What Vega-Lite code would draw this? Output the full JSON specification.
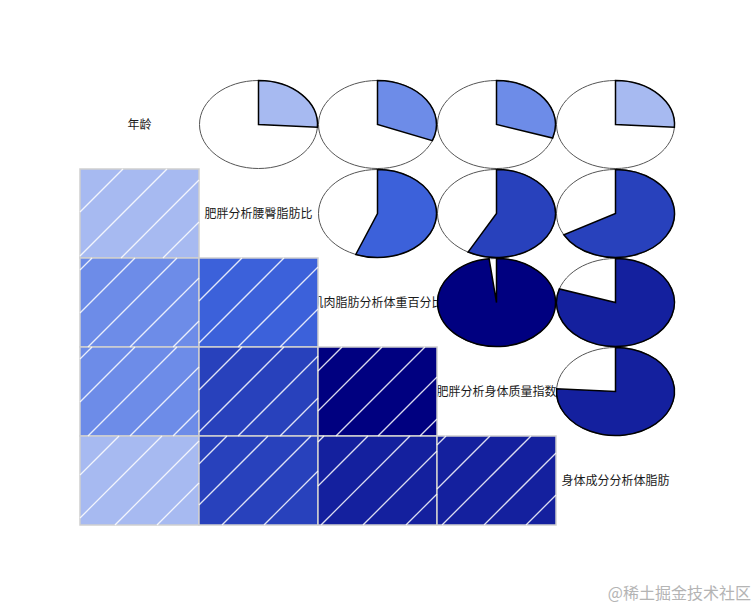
{
  "$schema": "https://vega.github.io/schema/vega-lite/v6.json",
  "width": 595,
  "height": 445,
  "autosize": {"type": "none"},
  "padding": {"left": 80, "top": 80, "right": 81, "bottom": 81},
  "background": "white",
  "config": {"view": {"stroke": null}},
  "title": {
    "text": "@稀土掘金技术社区",
    "orient": "bottom",
    "anchor": "end",
    "frame": "group",
    "offset": 68,
    "dx": 76,
    "baseline": "middle",
    "font": "Noto Sans CJK SC",
    "fontSize": 16,
    "fontWeight": "normal",
    "color": "#b4b4b4"
  },
  "datasets": {
    "vars": [
      {"name": "年龄"},
      {"name": "肥胖分析腰臀脂肪比"},
      {"name": "肌肉脂肪分析体重百分比"},
      {"name": "肥胖分析身体质量指数"},
      {"name": "身体成分分析体脂肪"}
    ],
    "cor": [
      {"v1": "年龄", "v2": "肥胖分析腰臀脂肪比", "r": 0.26},
      {"v1": "年龄", "v2": "肌肉脂肪分析体重百分比", "r": 0.31},
      {"v1": "年龄", "v2": "肥胖分析身体质量指数", "r": 0.30},
      {"v1": "年龄", "v2": "身体成分分析体脂肪", "r": 0.26},
      {"v1": "肥胖分析腰臀脂肪比", "v2": "肌肉脂肪分析体重百分比", "r": 0.56},
      {"v1": "肥胖分析腰臀脂肪比", "v2": "肥胖分析身体质量指数", "r": 0.58},
      {"v1": "肥胖分析腰臀脂肪比", "v2": "身体成分分析体脂肪", "r": 0.67},
      {"v1": "肌肉脂肪分析体重百分比", "v2": "肥胖分析身体质量指数", "r": 0.98},
      {"v1": "肌肉脂肪分析体重百分比", "v2": "身体成分分析体脂肪", "r": 0.80},
      {"v1": "肥胖分析身体质量指数", "v2": "身体成分分析体脂肪", "r": 0.76}
    ],
    "hatch": [
      {"x1": 0, "y1": 1.483, "x2": 0.361, "y2": 1.0},
      {"x1": 0, "y1": 1.978, "x2": 0.731, "y2": 1.0},
      {"x1": 0.345, "y1": 2.0, "x2": 1, "y2": 1.124},
      {"x1": 0.697, "y1": 2.0, "x2": 1, "y2": 1.596},
      {"x1": 0, "y1": 2.135, "x2": 0.101, "y2": 2},
      {"x1": 0, "y1": 2.618, "x2": 0.462, "y2": 2},
      {"x1": 0.067, "y1": 3, "x2": 0.815, "y2": 2},
      {"x1": 0.42, "y1": 3, "x2": 1, "y2": 2.225},
      {"x1": 0.782, "y1": 3, "x2": 1, "y2": 2.708},
      {"x1": 0, "y1": 3.135, "x2": 0.101, "y2": 3},
      {"x1": 0, "y1": 3.618, "x2": 0.462, "y2": 3},
      {"x1": 0.067, "y1": 4, "x2": 0.815, "y2": 3},
      {"x1": 0.42, "y1": 4, "x2": 1, "y2": 3.225},
      {"x1": 0.782, "y1": 4, "x2": 1, "y2": 3.708},
      {"x1": 0, "y1": 4.438, "x2": 0.328, "y2": 4},
      {"x1": 0, "y1": 4.921, "x2": 0.689, "y2": 4},
      {"x1": 0.294, "y1": 5, "x2": 1, "y2": 4.056},
      {"x1": 0.647, "y1": 5, "x2": 1, "y2": 4.528},
      {"x1": 1, "y1": 2.483, "x2": 1.361, "y2": 2},
      {"x1": 1, "y1": 2.955, "x2": 1.714, "y2": 2},
      {"x1": 1.328, "y1": 3, "x2": 2, "y2": 2.101},
      {"x1": 1.681, "y1": 3, "x2": 2, "y2": 2.573},
      {"x1": 1, "y1": 3.483, "x2": 1.361, "y2": 3},
      {"x1": 1, "y1": 3.955, "x2": 1.714, "y2": 3},
      {"x1": 1.328, "y1": 4, "x2": 2, "y2": 3.101},
      {"x1": 1.681, "y1": 4, "x2": 2, "y2": 3.573},
      {"x1": 1, "y1": 4.315, "x2": 1.235, "y2": 4},
      {"x1": 1, "y1": 4.775, "x2": 1.58, "y2": 4},
      {"x1": 1.193, "y1": 5, "x2": 1.941, "y2": 4},
      {"x1": 1.546, "y1": 5, "x2": 2, "y2": 4.393},
      {"x1": 2, "y1": 3.27, "x2": 2.202, "y2": 3},
      {"x1": 2, "y1": 3.719, "x2": 2.538, "y2": 3},
      {"x1": 2.151, "y1": 4, "x2": 2.899, "y2": 3},
      {"x1": 2.504, "y1": 4, "x2": 3, "y2": 3.337},
      {"x1": 2.857, "y1": 4, "x2": 3, "y2": 3.809},
      {"x1": 2, "y1": 4.067, "x2": 2.05, "y2": 4},
      {"x1": 2, "y1": 4.562, "x2": 2.42, "y2": 4},
      {"x1": 2.025, "y1": 5, "x2": 2.773, "y2": 4},
      {"x1": 2.378, "y1": 5, "x2": 3, "y2": 4.169},
      {"x1": 2.739, "y1": 5, "x2": 3, "y2": 4.652},
      {"x1": 3, "y1": 4.101, "x2": 3.076, "y2": 4},
      {"x1": 3, "y1": 4.596, "x2": 3.445, "y2": 4},
      {"x1": 3.042, "y1": 5, "x2": 3.79, "y2": 4},
      {"x1": 3.395, "y1": 5, "x2": 4, "y2": 4.191},
      {"x1": 3.748, "y1": 5, "x2": 4, "y2": 4.663}
    ]
  },
  "layer": [
    {
      "data": {"name": "vars"},
      "mark": {"type": "text", "font": "Noto Sans CJK SC", "fontSize": 12, "color": "#1a1a1a", "align": "center", "baseline": "middle"},
      "encoding": {
        "x": {"field": "name", "type": "ordinal", "axis": null, "scale": {"domain": ["年龄", "肥胖分析腰臀脂肪比", "肌肉脂肪分析体重百分比", "肥胖分析身体质量指数", "身体成分分析体脂肪"], "paddingInner": 0, "paddingOuter": 0}},
        "y": {"field": "name", "type": "ordinal", "axis": null, "scale": {"domain": ["年龄", "肥胖分析腰臀脂肪比", "肌肉脂肪分析体重百分比", "肥胖分析身体质量指数", "身体成分分析体脂肪"], "paddingInner": 0, "paddingOuter": 0}},
        "text": {"field": "name"}
      }
    },
    {
      "data": {"name": "cor"},
      "mark": {"type": "rect", "stroke": "#cfcfcf", "strokeWidth": 1.5},
      "encoding": {
        "x": {"field": "v1", "type": "ordinal", "axis": null, "scale": {"domain": ["年龄", "肥胖分析腰臀脂肪比", "肌肉脂肪分析体重百分比", "肥胖分析身体质量指数", "身体成分分析体脂肪"], "paddingInner": 0, "paddingOuter": 0}},
        "y": {"field": "v2", "type": "ordinal", "axis": null, "scale": {"domain": ["年龄", "肥胖分析腰臀脂肪比", "肌肉脂肪分析体重百分比", "肥胖分析身体质量指数", "身体成分分析体脂肪"], "paddingInner": 0, "paddingOuter": 0}},
        "color": {"field": "r", "type": "quantitative", "legend": null, "scale": {"type": "threshold", "domain": [0.143, 0.286, 0.429, 0.571, 0.714, 0.857], "range": ["#E2E8FA", "#A7BAF1", "#6D8CE8", "#3C61DA", "#2841BC", "#14209E", "#000080"]}}
      }
    },
    {
      "data": {"name": "hatch"},
      "mark": {"type": "rule", "color": "#ffffff", "strokeWidth": 1.3, "opacity": 0.85},
      "encoding": {
        "x": {"field": "x1", "type": "quantitative", "axis": null, "scale": {"domain": [0, 5], "nice": false, "zero": false}},
        "y": {"field": "y1", "type": "quantitative", "axis": null, "scale": {"domain": [0, 5], "nice": false, "zero": false, "reverse": true}},
        "x2": {"field": "x2"},
        "y2": {"field": "y2"}
      }
    },
    {
      "data": {"name": "cor"},
      "mark": {"type": "point", "filled": true, "fill": "white", "stroke": "#555555", "strokeWidth": 1, "opacity": 1, "size": 13924, "shape": "M-1,0A1,0.746,0,1,1,1,0A1,0.746,0,1,1,-1,0Z"},
      "encoding": {
        "x": {"field": "v2", "type": "ordinal", "axis": null, "scale": {"domain": ["年龄", "肥胖分析腰臀脂肪比", "肌肉脂肪分析体重百分比", "肥胖分析身体质量指数", "身体成分分析体脂肪"], "paddingInner": 0, "paddingOuter": 0}},
        "y": {"field": "v1", "type": "ordinal", "axis": null, "scale": {"domain": ["年龄", "肥胖分析腰臀脂肪比", "肌肉脂肪分析体重百分比", "肥胖分析身体质量指数", "身体成分分析体脂肪"], "paddingInner": 0, "paddingOuter": 0}}
      }
    },
    {
      "data": {"name": "cor"},
      "transform": [
        {"calculate": "'M0,0L0,-0.746A1,0.746,0,' + (datum.r > 0.5 ? '1' : '0') + ',1,' + (round(sin(2 * PI * datum.r) * 10000) / 10000) + ',' + (round(-0.746 * cos(2 * PI * datum.r) * 10000) / 10000) + 'Z'", "as": "wedge"}
      ],
      "mark": {"type": "point", "filled": true, "stroke": "#000000", "strokeWidth": 1.5, "opacity": 1, "size": 13924},
      "encoding": {
        "x": {"field": "v2", "type": "ordinal", "axis": null, "scale": {"domain": ["年龄", "肥胖分析腰臀脂肪比", "肌肉脂肪分析体重百分比", "肥胖分析身体质量指数", "身体成分分析体脂肪"], "paddingInner": 0, "paddingOuter": 0}},
        "y": {"field": "v1", "type": "ordinal", "axis": null, "scale": {"domain": ["年龄", "肥胖分析腰臀脂肪比", "肌肉脂肪分析体重百分比", "肥胖分析身体质量指数", "身体成分分析体脂肪"], "paddingInner": 0, "paddingOuter": 0}},
        "shape": {"field": "wedge", "type": "nominal", "scale": null},
        "color": {"field": "r", "type": "quantitative", "legend": null, "scale": {"type": "threshold", "domain": [0.143, 0.286, 0.429, 0.571, 0.714, 0.857], "range": ["#E2E8FA", "#A7BAF1", "#6D8CE8", "#3C61DA", "#2841BC", "#14209E", "#000080"]}}
      }
    }
  ],
  "resolve": {"scale": {"x": "independent", "y": "independent"}}
}
